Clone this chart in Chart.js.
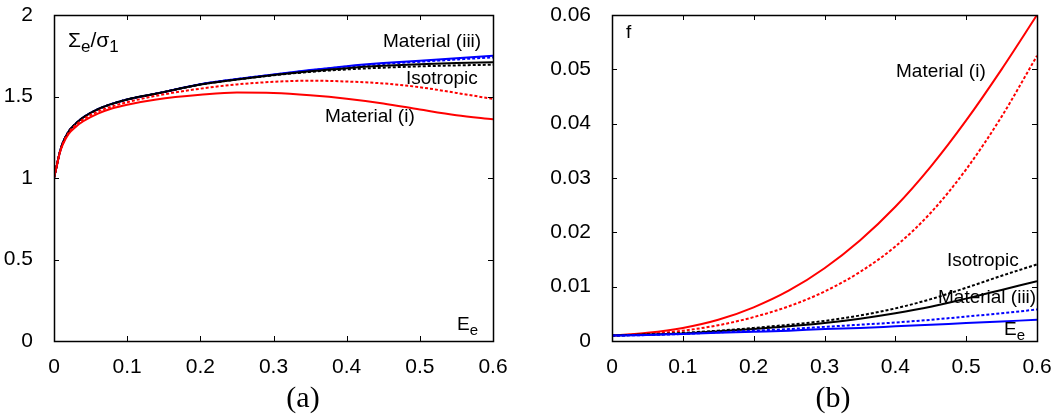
<!DOCTYPE html>
<html>
<head>
<meta charset="utf-8">
<script src="https://cdn.jsdelivr.net/npm/chart.js@4.4.0/dist/chart.umd.min.js"></script>
<style>
    body { margin: 0; background: #fff; width: 1061px; height: 418px; overflow: hidden; position: relative; }
    canvas { position: absolute; top: 0; }
</style>
</head>
<body>
<canvas id="stress-chart" width="530" height="418" style="left:0"></canvas>
<canvas id="porosity-chart" width="521" height="418" style="left:540px"></canvas>
<script>
// Panel (a): normalised effective stress vs effective strain
const strainA = [0, 0.004, 0.008, 0.012, 0.02, 0.03, 0.04, 0.06, 0.08, 0.1, 0.14, 0.2, 0.25, 0.3, 0.35, 0.4, 0.45, 0.5, 0.55, 0.6];
const stressMat3Solid  = [1, 1.08, 1.16, 1.215, 1.285, 1.335, 1.372, 1.422, 1.456, 1.482, 1.518, 1.575, 1.607, 1.635, 1.662, 1.686, 1.705, 1.72, 1.735, 1.75];
const stressMat3Dashed = [1, 1.08, 1.16, 1.215, 1.285, 1.335, 1.372, 1.422, 1.456, 1.482, 1.518, 1.575, 1.607, 1.634, 1.66, 1.683, 1.70, 1.713, 1.727, 1.74];
const stressIsoSolid   = [1, 1.08, 1.16, 1.215, 1.285, 1.335, 1.372, 1.422, 1.456, 1.482, 1.518, 1.574, 1.605, 1.632, 1.655, 1.674, 1.688, 1.698, 1.705, 1.71];
const stressIsoDashed  = [1, 1.08, 1.16, 1.215, 1.285, 1.335, 1.371, 1.421, 1.455, 1.481, 1.517, 1.573, 1.604, 1.63, 1.651, 1.666, 1.677, 1.685, 1.691, 1.695];
const stressMat1Dashed = [1, 1.08, 1.158, 1.21, 1.278, 1.326, 1.36, 1.408, 1.44, 1.465, 1.505, 1.548, 1.574, 1.59, 1.597, 1.592, 1.58, 1.557, 1.522, 1.485];
const stressMat1Solid  = [1, 1.08, 1.155, 1.205, 1.27, 1.315, 1.348, 1.395, 1.428, 1.45, 1.482, 1.510, 1.524, 1.521, 1.507, 1.486, 1.457, 1.42, 1.385, 1.36];

// Panel (b): porosity vs effective strain
const strainB = [0, 0.05, 0.1, 0.15, 0.2, 0.25, 0.3, 0.35, 0.4, 0.45, 0.5, 0.55, 0.6];
const fMat1Solid  = [0.001, 0.0015, 0.0024, 0.0039, 0.0062, 0.0093, 0.0134, 0.0185, 0.0247, 0.0321, 0.0406, 0.0500, 0.060];
const fMat1Dashed = [0.001, 0.0013, 0.0019, 0.0029, 0.0044, 0.0064, 0.0091, 0.0127, 0.0174, 0.0236, 0.0316, 0.0413, 0.0525];
const fIsoDashed  = [0.001, 0.0012, 0.0015, 0.0019, 0.0024, 0.0030, 0.0037, 0.0047, 0.0060, 0.0077, 0.0098, 0.0120, 0.0141];
const fIsoSolid   = [0.001, 0.0012, 0.0014, 0.0018, 0.0022, 0.0027, 0.0033, 0.0041, 0.0051, 0.0063, 0.0078, 0.0094, 0.0110];
const fMat3Dashed = [0.001, 0.0011, 0.0013, 0.0016, 0.0019, 0.0022, 0.0026, 0.0030, 0.0034, 0.0039, 0.0045, 0.0051, 0.0058];
const fMat3Solid  = [0.001, 0.0011, 0.0013, 0.0015, 0.0017, 0.0019, 0.0022, 0.0024, 0.0027, 0.0030, 0.0033, 0.0036, 0.0039];

const xTicks = [0, 0.1, 0.2, 0.3, 0.4, 0.5, 0.6];
const yTicksA = [0, 0.5, 1, 1.5, 2];
const yTicksB = [0, 0.01, 0.02, 0.03, 0.04, 0.05, 0.06];

const RED = '#ff0000', BLUE = '#0000ff', BLACK = '#000000';
const SANS = '"Liberation Sans", Arial, sans-serif';

function series(xs, ys, color, dashed) {
    return {
        data: xs.map((x, i) => ({ x: x, y: ys[i] })),
        borderColor: color,
        borderWidth: 2,
        borderDash: dashed ? [3, 2] : [],
        pointRadius: 0,
        cubicInterpolationMode: 'monotone',
        fill: false
    };
}

// Frame with gnuplot-style inward ticks on all four sides
const frameTicks = {
    id: 'frameTicks',
    afterDatasetsDraw(chart) {
        const ctx = chart.ctx;
        const a = chart.chartArea;
        const xs = chart.scales.x, ys = chart.scales.y;
        const len = 5;
        ctx.save();
        ctx.strokeStyle = '#000';
        ctx.lineWidth = 1;
        ctx.beginPath();
        xs.ticks.forEach(t => {
            const px = Math.round(xs.getPixelForValue(t.value)) + 0.5;
            ctx.moveTo(px, a.bottom); ctx.lineTo(px, a.bottom - len);
            ctx.moveTo(px, a.top); ctx.lineTo(px, a.top + len);
        });
        ys.ticks.forEach(t => {
            const py = Math.round(ys.getPixelForValue(t.value)) + 0.5;
            ctx.moveTo(a.left, py); ctx.lineTo(a.left + len, py);
            ctx.moveTo(a.right, py); ctx.lineTo(a.right - len, py);
        });
        ctx.stroke();
        ctx.lineWidth = 1.5;
        ctx.strokeRect(Math.round(a.left) + 0.5, Math.round(a.top) + 0.5,
            Math.round(a.right - a.left), Math.round(a.bottom - a.top));
        ctx.restore();
    }
};

// Text labels: each is a list of [text, isSubscript] pieces
const annotate = {
    id: 'annotate',
    afterDraw(chart, args, opts) {
        const ctx = chart.ctx;
        ctx.save();
        ctx.fillStyle = '#000';
        ctx.textBaseline = 'alphabetic';
        ctx.textAlign = 'left';
        (opts.labels || []).forEach(lab => {
            let x = lab.x;
            const size = lab.size || 19;
            lab.parts.forEach(([txt, sub]) => {
                ctx.font = (sub ? Math.round(size * 0.8) : size) + 'px ' + SANS;
                ctx.fillText(txt, x, lab.y + (sub ? 5 : 0));
                x += ctx.measureText(txt).width;
            });
        });
        if (opts.caption) {
            ctx.font = '30px "Liberation Serif", "Times New Roman", serif';
            ctx.textAlign = 'center';
            ctx.fillText(opts.caption.text, opts.caption.x, opts.caption.y);
        }
        ctx.restore();
    }
};

function makeOptions(yMin, yMax, yTicks, yWidth, padRight, yFmt, annot) {
    return {
        responsive: false,
        animation: false,
        devicePixelRatio: 1,
        layout: { autoPadding: false, padding: { top: 15, right: padRight, left: 0, bottom: 0 } },
        plugins: {
            legend: { display: false },
            tooltip: { enabled: false },
            annotate: annot
        },
        scales: {
            x: {
                type: 'linear', min: 0, max: 0.6,
                grid: { display: false }, border: { display: false },
                afterBuildTicks: s => { s.ticks = xTicks.map(v => ({ value: v })); },
                afterFit: s => { s.height = 77; s.paddingLeft = 0; s.paddingRight = 0; },
                ticks: {
                    color: '#000', padding: 6, maxRotation: 0,
                    font: { family: SANS, size: 21 },
                    callback: v => (v === 0 ? '0' : v.toFixed(1))
                }
            },
            y: {
                type: 'linear', min: yMin, max: yMax,
                grid: { display: false }, border: { display: false },
                afterBuildTicks: s => { s.ticks = yTicks.map(v => ({ value: v })); },
                afterFit: s => { s.width = yWidth; s.paddingTop = 0; s.paddingBottom = 0; },
                ticks: {
                    color: '#000', padding: 13,
                    font: { family: SANS, size: 21 },
                    callback: yFmt
                }
            }
        }
    };
}

new Chart(document.getElementById('stress-chart').getContext('2d'), {
    type: 'line',
    data: {
        datasets: [
            series(strainA, stressMat1Solid, RED, false),
            series(strainA, stressMat1Dashed, RED, true),
            series(strainA, stressIsoSolid, BLACK, false),
            series(strainA, stressIsoDashed, BLACK, true),
            series(strainA, stressMat3Solid, BLUE, false),
            series(strainA, stressMat3Dashed, BLUE, true)
        ]
    },
    options: makeOptions(0, 2, yTicksA, 54, 37, v => String(v), {
        labels: [
            { x: 68, y: 47, size: 21, parts: [['\u03A3', false], ['e', true], ['/\u03C3', false], ['1', true]] },
            { x: 383, y: 47, parts: [['Material (iii)', false]] },
            { x: 406, y: 84, parts: [['Isotropic', false]] },
            { x: 325, y: 122, parts: [['Material (i)', false]] },
            { x: 457, y: 330, parts: [['E', false], ['e', true]] }
        ],
        caption: { text: '(a)', x: 303, y: 407 }
    }),
    plugins: [frameTicks, annotate]
});

new Chart(document.getElementById('porosity-chart').getContext('2d'), {
    type: 'line',
    data: {
        datasets: [
            series(strainB, fMat3Solid, BLUE, false),
            series(strainB, fMat3Dashed, BLUE, true),
            series(strainB, fIsoSolid, BLACK, false),
            series(strainB, fIsoDashed, BLACK, true),
            series(strainB, fMat1Dashed, RED, true),
            series(strainB, fMat1Solid, RED, false)
        ]
    },
    options: makeOptions(0, 0.06, yTicksB, 72, 24, v => (v === 0 ? '0' : v.toFixed(2)), {
        labels: [
            { x: 86, y: 38, parts: [['f', false]] },
            { x: 356, y: 77, parts: [['Material (i)', false]] },
            { x: 407, y: 266, parts: [['Isotropic', false]] },
            { x: 398, y: 303, parts: [['Material (iii)', false]] },
            { x: 464, y: 335, parts: [['E', false], ['e', true]] }
        ],
        caption: { text: '(b)', x: 293, y: 407 }
    }),
    plugins: [frameTicks, annotate]
});
</script>
</body>
</html>
